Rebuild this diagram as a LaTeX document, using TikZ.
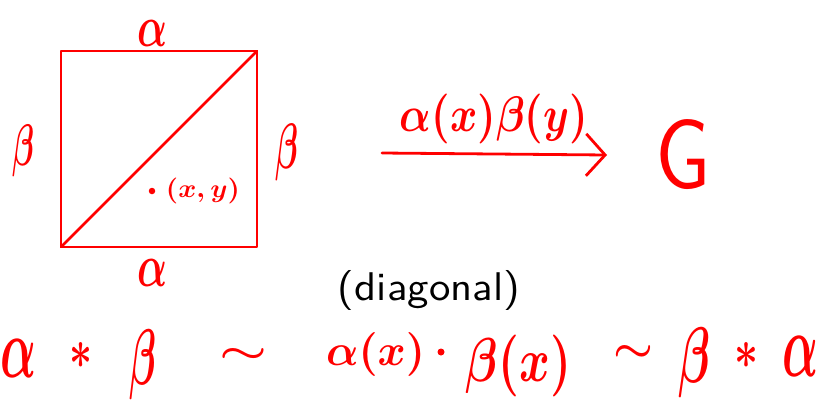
\documentclass[tikz,border=0pt]{standalone}
\usepackage{graphicx}
\usetikzlibrary{arrows.meta}
\newcommand\gfit[3]{\resizebox*{#1pt}{#2pt}{#3}}
\begin{document}
\begin{tikzpicture}[x=1pt,y=-1pt,
  pen/.style={draw=red, line width=2.8pt, line cap=round, line join=round},
  glyph/.style={inner sep=0pt, outer sep=0pt, text=red, anchor=center},
  dotnode/.style={circle, fill=red, draw=none, inner sep=0pt, minimum size=6.5pt}]
\useasboundingbox (0,0) rectangle (819,400);
% square with diagonal
\coordinate (tl) at (61,51);
\coordinate (tr) at (257,51);
\coordinate (br) at (257,247);
\coordinate (bl) at (61,247);
\draw[pen] (tl) -- (tr) -- (br) -- (bl) -- cycle;
\draw[pen] (bl) -- (tr);
% edge labels
\node[glyph] (atop) at (153,33) {\gfit{30}{26}{\boldmath$\alpha$}};
\node[glyph] (abot) at (153,273) {\gfit{30}{27}{\boldmath$\alpha$}};
\node[glyph] (bleft) at (24,151) {\gfit{22}{52}{\boldmath$\beta$}};
\node[glyph] (bright) at (287,152) {\gfit{23}{57}{\boldmath$\beta$}};
% point
\node[dotnode] (pt) at (152,191) {};
\node[glyph] (xy) at (203,191) {\gfit{74}{26}{\boldmath$(x,y)$}};
% arrow to G
\coordinate (arrS) at (382,153);
\coordinate (arrE) at (607,155);
\draw[pen, -{Straight Barb[length=19pt,width=42pt]}] (arrS) -- (arrE);
\node[glyph] (map) at (494,119) {\gfit{188}{50}{\boldmath$\alpha(x)\beta(y)$}};
\node[glyph] (G) at (683,155) {\gfit{55}{70}{\textsf{G}}};
% caption
\node[inner sep=0pt, text=black] (diag) at (429,290) {\gfit{182}{40}{\textsf{(diagonal)}}};
% bottom formula
\node[glyph] (a1) at (19,358) {\gfit{36}{38}{\boldmath$\alpha$}};
\node[glyph] (s1) at (81.5,355) {\gfit{23}{26}{\boldmath$*$}};
\node[glyph] (b1) at (143.5,365) {\gfit{27}{70}{\boldmath$\beta$}};
\node[glyph] (t1) at (244,355) {\gfit{48}{14}{\boldmath$\sim$}};
\node[glyph] (ax) at (375.5,354) {\gfit{99}{44}{\boldmath$\alpha(x)$}};
\node[dotnode, minimum size=7pt] (cdot) at (441,352) {};
\node[glyph] (bx) at (518.5,366) {\gfit{105}{62}{\boldmath$\beta(x)$}};
\node[glyph] (t2) at (633,353) {\gfit{40}{16}{\boldmath$\sim$}};
\node[glyph] (b2) at (695,363) {\gfit{32}{70}{\boldmath$\beta$}};
\node[glyph] (s2) at (746,355) {\gfit{24}{26}{\boldmath$*$}};
\node[glyph] (a2) at (800,356) {\gfit{36}{40}{\boldmath$\alpha$}};
\end{tikzpicture}
\end{document}
